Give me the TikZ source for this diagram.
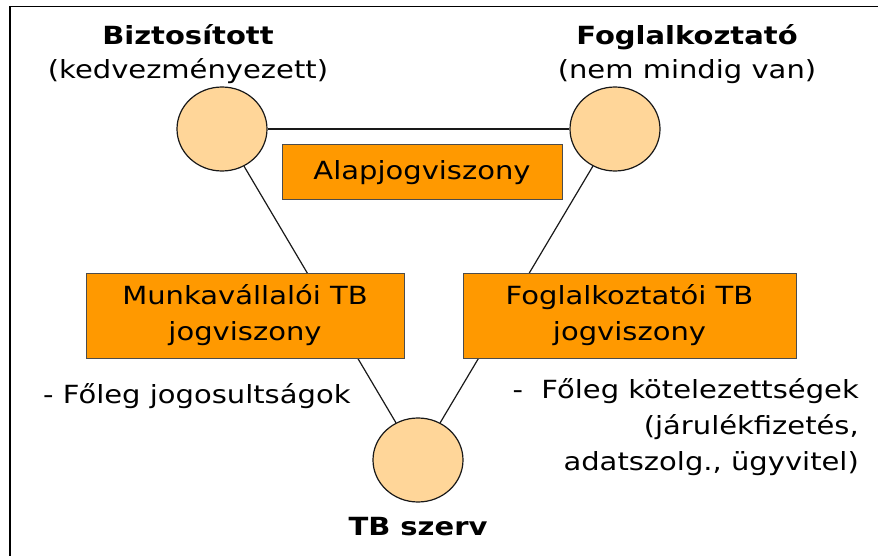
\documentclass[tikz,border=0pt]{standalone}
\usepackage{fontspec}
\setmainfont[FakeStretch=1.16]{DejaVu Sans}
\usetikzlibrary{shapes.geometric}

\definecolor{relorange}{RGB}{255,153,0}
\definecolor{partyfill}{RGB}{255,214,153}

\tikzset{
    party/.style={ellipse, draw=black!90, line width=1.2pt, fill=partyfill, minimum width=90pt, minimum height=84pt, inner sep=0pt},
    relbox/.style={rectangle, draw=black!70, line width=1pt, fill=relorange, align=center, inner sep=0pt, font=\fontsize{25}{36}\selectfont},
    plaintext/.style={inner sep=0pt, font=\fontsize{25}{36}\selectfont},
    boldtext/.style={inner sep=0pt, font=\fontsize{25}{36}\selectfont\bfseries}
}

\begin{document}
\begin{tikzpicture}[x=1pt, y=-1pt]

    \useasboundingbox (0,0) rectangle (878,556);
    \draw [line width=1.5pt] (10,556) -- (10,6.5) -- (878,6.5);

    \node[party] (bizt) at (222,129) {};
    \node[party] (fogl) at (615,129) {};
    \node[party] (tb) at (418,460) {};

    \node[boldtext, anchor=base] (biztname) at (188,45) {Biztosított};
    \node[plaintext, anchor=base] (biztnote) at (188,79) {(kedvezményezett)};
    \node[boldtext, anchor=base] (foglname) at (687,45) {Foglalkoztató};
    \node[plaintext, anchor=base] (foglnote) at (687,79) {(nem mindig van)};
    \node[boldtext, anchor=base] (tbname) at (418,535) {TB szerv};

    \begin{scope}[line width=1.2pt, black!90]
        \draw (bizt) -- (fogl);
        \draw (bizt) -- (tb);
        \draw (fogl) -- (tb);
    \end{scope}

    \node[relbox, minimum width=280pt, minimum height=55pt] (alap) at (422,172.5) {Alapjogviszony};
    \node[relbox, minimum width=318pt, minimum height=85pt] (munk) at (245,315.5) {Munkavállalói TB\\jogviszony};
    \node[relbox, minimum width=333pt, minimum height=85pt] (foglrel) at (629.5,315.5) {Foglalkoztatói TB\\jogviszony};

    \node[plaintext, anchor=base west] (jogos) at (43,403) {- Főleg jogosultságok};
    \node[plaintext, anchor=base east, align=right] (kotel) at (859,470) {-\ \ Főleg kötelezettségek\\(járulékfizetés,\\adatszolg., ügyvitel)};

\end{tikzpicture}
\end{document}
